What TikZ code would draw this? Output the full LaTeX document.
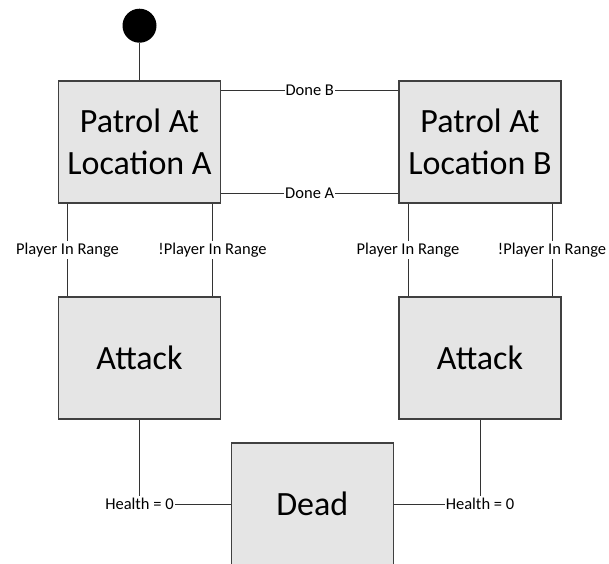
\documentclass[tikz,border=0pt]{standalone}
\usepackage{fontspec}
\setmainfont{Carlito}
\usepackage{tikz}
\usetikzlibrary{calc,positioning}
\tikzstyle{state} = [rectangle, draw=black!75, line width=1.1pt, fill=gray!20,
    minimum width=162pt, minimum height=122pt, align=center,
    font=\fontsize{34}{41.5}\selectfont]
\tikzstyle{startdot} = [circle, fill=black, minimum size=34pt, inner sep=0pt]
\tikzstyle{guard} = [fill=white, inner xsep=1pt, inner ysep=2pt,
    font=\fontsize{16.5}{19}\selectfont]
\tikzstyle{line} = [draw=black!80, line width=0.8pt]

\begin{document}
\begin{tikzpicture}[node distance = 216pt]
    \useasboundingbox (-139.5pt,25.7pt) rectangle (469.5pt,-537.3pt);
    % Place nodes
    \node [startdot] (start) at (0,0) {};
    \node [state, below of=start, node distance=116.3pt] (patrolA) {Patrol At\\Location A};
    \node [state, right of=patrolA, node distance=340.5pt] (patrolB) {Patrol At\\Location B};
    \node [state, below of=patrolA] (attackA) {Attack};
    \node [state, below of=patrolB] (attackB) {Attack};
    \coordinate (mid) at ($(attackA)!0.5!(attackB)$);
    \node [state, below of=mid, node distance=146pt, xshift=2.5pt] (dead) {Dead};
    % Draw edges
    \path [line] (start) -- (patrolA);
    \path [line] ([yshift=52pt]patrolA.east) -- node[guard] {Done B} ([yshift=52pt]patrolB.west);
    \path [line] ([yshift=-51pt]patrolA.east) -- node[guard] {Done A} ([yshift=-51pt]patrolB.west);
    \path [line] ([xshift=-72pt]patrolA.south) -- node[guard] {Player In Range} ([xshift=-72pt]attackA.north);
    \path [line] ([xshift=73pt]patrolA.south) -- node[guard] {!Player In Range} ([xshift=73pt]attackA.north);
    \path [line] ([xshift=-72pt]patrolB.south) -- node[guard] {Player In Range} ([xshift=-72pt]attackB.north);
    \path [line] ([xshift=72pt]patrolB.south) -- node[guard] {!Player In Range} ([xshift=72pt]attackB.north);
    \path [line] (attackA) |- node[guard] {Health = 0} (dead);
    \path [line] (attackB) |- node[guard] {Health = 0} (dead);
\end{tikzpicture}
\end{document}
